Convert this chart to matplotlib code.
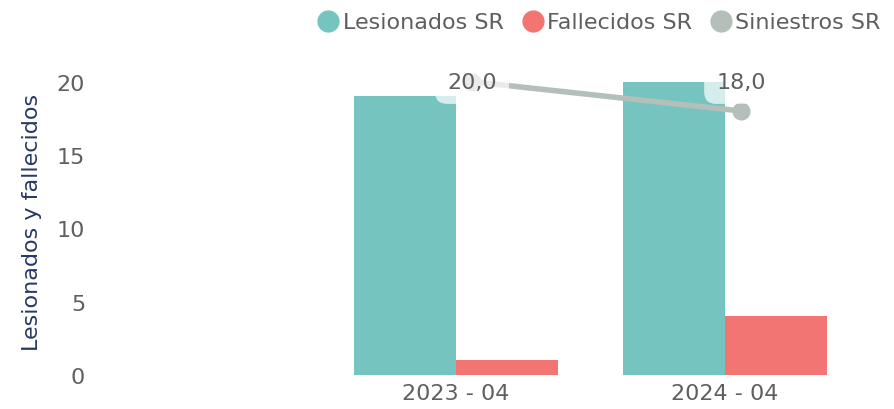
import matplotlib
matplotlib.use("Agg")
import matplotlib.pyplot as plt
from matplotlib.lines import Line2D
import numpy as np

# data
periods = ["2023 - 04", "2024 - 04"]
lesionados = [19, 20]
fallecidos = [1, 4]
siniestros = [20.0, 18.0]

c_les = "#75c4c0"
c_fal = "#f27573"
c_sin = "#b5bfba"
txt = "#5f5f5f"

plt.rcParams['font.family'] = ['DejaVu Sans']

fig = plt.figure(figsize=(8.94, 4.10), dpi=100)
ax = fig.add_axes([106 / 894, 34 / 410, 767 / 894, 308 / 410])

x = np.arange(len(periods))
w = 0.38
ax.bar(x - w / 2, lesionados, w, color=c_les, zorder=2)
ax.bar(x + w / 2, fallecidos, w, color=c_fal, zorder=2)

# line series (drawn a bit right of the group centre, as in the original)
xl = x + 0.06
ax.plot(xl, siniestros, color=c_sin, lw=4, marker="o", ms=12, zorder=3,
        solid_capstyle="round")
for xi, v in zip(xl, siniestros):
    ax.text(xi, max(siniestros), f"{v:.1f}".replace(".", ","), ha="center",
            va="center", fontsize=16, color=txt, zorder=4,
            bbox=dict(boxstyle="round,pad=0.55", fc="white", ec="none", alpha=0.7))

ax.set_xlim(-1.3, 1.55)
ax.set_ylim(0, 21)
ax.set_yticks([0, 5, 10, 15, 20])
ax.set_xticks(x)
ax.set_xticklabels(periods)
ax.tick_params(axis="both", length=0, labelsize=16, labelcolor=txt)
ax.tick_params(axis="y", pad=15)
ax.tick_params(axis="x", pad=6)
for s in ax.spines.values():
    s.set_visible(False)

ax.set_ylabel("Lesionados y fallecidos", fontsize=16, color="#283a64", labelpad=11)

handles = [
    Line2D([], [], ls="none", marker="o", ms=15, color=c_les),
    Line2D([], [], ls="none", marker="o", ms=15, color=c_fal),
    Line2D([], [], ls="none", marker="o", ms=15, color=c_sin),
]
fig.legend(handles, ["Lesionados SR", "Fallecidos SR", "Siniestros SR"],
           loc="upper right", bbox_to_anchor=(1.0, 1.0), ncol=3, frameon=False,
           fontsize=16, labelcolor=txt, handletextpad=0.15, columnspacing=0.8,
           handlelength=1.0, borderaxespad=0.2)

fig.savefig("out.png", dpi=100)
